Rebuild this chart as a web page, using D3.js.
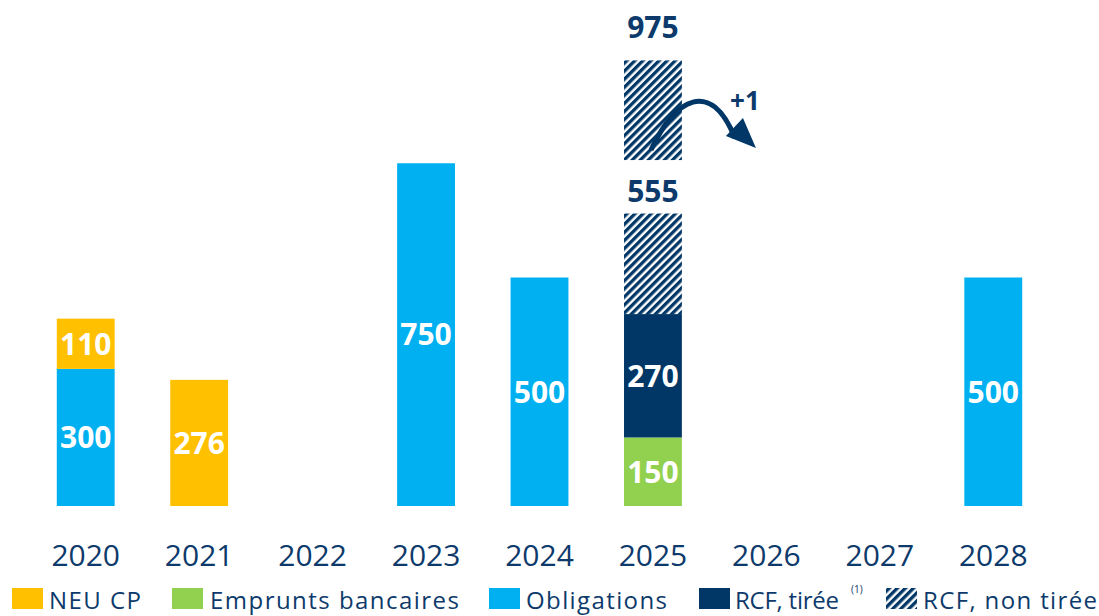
<!DOCTYPE html>
<html>
<script src='https://d3js.org/d3.v7.min.js'></script>
<style>
body {margin: 0; background: white;}
text {font-family: 'Open Sans', sans-serif;}
</style>
<body onload='init()'>
<script>
// chart values
var years = ['2020','2021','2022','2023','2024','2025','2026','2027','2028'];
var neuCP      = [110, 276, 0, 0, 0, 0, 0, 0, 0];
var emprunts   = [0, 0, 0, 0, 0, 150, 0, 0, 0];
var obligations= [300, 0, 0, 750, 500, 0, 0, 0, 500];
var rcfTiree   = [0, 0, 0, 0, 0, 270, 0, 0, 0];
// undrawn RCF blocks (not to scale in the original): [from, to, label]
var rcfNonTiree = [[420, 640, '555'], [757, 975, '975']];
var extension = '+1';

var legendNames = ['NEU CP', 'Emprunts bancaires', 'Obligations', 'RCF, tirée', 'RCF, non tirée'];

function init() {
  var navy = '#003767', textNavy = '#0d3a6b';
  var colors = {neu: '#FFC000', emp: '#92D050', obl: '#00B0F0', rcf: navy};

  var svg = d3.select('body').append('svg')
    .attr('width', 1099).attr('height', 616);

  var defs = svg.append('defs');
  var pat = defs.append('pattern')
    .attr('id', 'hatch')
    .attr('patternUnits', 'userSpaceOnUse')
    .attr('width', 5.7).attr('height', 5.7)
    .attr('patternTransform', 'rotate(45)');
  pat.append('rect').attr('width', 5.7).attr('height', 5.7).attr('fill', 'white');
  pat.append('rect').attr('width', 3.3).attr('height', 5.7).attr('fill', navy);

  var x = d3.scaleBand().domain(years).range([29, 1050])
    .paddingInner(0.49).paddingOuter(0.245);
  var y = d3.scaleLinear().domain([0, 1000]).range([506, 49]);

  // stacked segments: order bottom to top
  var series = [
    {key: 'obl', vals: obligations},
    {key: 'emp', vals: emprunts},
    {key: 'neu', vals: neuCP},
    {key: 'rcf', vals: rcfTiree}
  ];
  var segs = [];
  years.forEach(function(yr, i) {
    var base = 0;
    series.forEach(function(s) {
      var v = s.vals[i];
      if (v > 0) {
        segs.push({year: yr, key: s.key, y0: base, y1: base + v, v: v});
        base += v;
      }
    });
  });

  var g = svg.append('g');
  g.selectAll('rect.seg')
    .data(segs)
    .enter()
    .append('rect')
    .attr('class', 'seg')
    .attr('x', function(d) { return x(d.year); })
    .attr('width', x.bandwidth())
    .attr('y', function(d) { return y(d.y1); })
    .attr('height', function(d) { return y(d.y0) - y(d.y1); })
    .attr('fill', function(d) { return colors[d.key]; });

  g.selectAll('text.val')
    .data(segs)
    .enter()
    .append('text')
    .attr('class', 'val')
    .attr('x', function(d) { return x(d.year) + x.bandwidth() / 2; })
    .attr('y', function(d) { return (y(d.y0) + y(d.y1)) / 2; })
    .attr('dy', '0.36em')
    .style('text-anchor', 'middle')
    .style('font-weight', 'bold')
    .style('font-size', '30px')
    .style('fill', 'white')
    .text(function(d) { return d.v; });

  // undrawn RCF
  var x25 = x('2025');
  g.selectAll('rect.hatch')
    .data(rcfNonTiree)
    .enter()
    .append('rect')
    .attr('class', 'hatch')
    .attr('x', x25)
    .attr('width', x.bandwidth())
    .attr('y', function(d) { return y(d[1]); })
    .attr('height', function(d) { return y(d[0]) - y(d[1]); })
    .attr('fill', 'url(#hatch)');

  g.selectAll('text.tot')
    .data(rcfNonTiree)
    .enter()
    .append('text')
    .attr('class', 'tot')
    .attr('x', x25 + x.bandwidth() / 2)
    .attr('y', function(d, i) { return y(d[1]) - (i === 0 ? 12 : 22); })
    .style('text-anchor', 'middle')
    .style('font-weight', 'bold')
    .style('font-size', '30px')
    .style('fill', textNavy)
    .text(function(d) { return d[2]; });

  // extension arrow
  var cx = x25 + x.bandwidth() / 2;
  var ay = y(rcfNonTiree[1][0]);
  var arrow = svg.append('g');
  arrow.append('path')
    .attr('d', 'M' + (cx - 2) + ',' + (ay - 10) +
      ' C' + (cx + 22) + ',' + (ay - 62) + ' ' + (cx + 58) + ',' + (ay - 82) + ' ' + (cx + 82) + ',' + (ay - 22))
    .attr('fill', 'none')
    .attr('stroke', navy)
    .attr('stroke-width', 5);
  arrow.append('path')
    .attr('d', 'M' + (cx + 103) + ',' + (ay - 12) +
      ' L' + (cx + 73) + ',' + (ay - 24) + ' L' + (cx + 90) + ',' + (ay - 42) + ' Z')
    .attr('fill', navy);
  arrow.append('text')
    .attr('x', cx + 92).attr('y', ay - 50)
    .style('text-anchor', 'middle')
    .style('font-weight', 'bold')
    .style('font-size', '26px')
    .style('fill', textNavy)
    .text(extension);

  // year axis
  var ax = svg.append('g')
    .attr('transform', 'translate(0,520)')
    .call(d3.axisBottom(x).tickSize(0).tickPadding(0));
  ax.select('.domain').remove();
  ax.selectAll('text')
    .attr('y', 46)
    .attr('dy', 0)
    .style('font-family', "'Open Sans', sans-serif")
    .style('font-size', '30px')
    .style('fill', textNavy);

  // legend
  var legX = [12, 172, 489, 699, 886];
  var legTextX = [49, 210, 526, 735, 923];
  var legW = [92, 249, 141, 104, 174];
  var legFill = [colors.neu, colors.emp, colors.obl, colors.rcf, 'url(#hatch)'];
  var leg = svg.append('g');
  leg.selectAll('rect')
    .data(legendNames)
    .enter()
    .append('rect')
    .attr('x', function(d, i) { return legX[i]; })
    .attr('y', 588)
    .attr('width', 31).attr('height', 21)
    .attr('fill', function(d, i) { return legFill[i]; });
  leg.selectAll('text.leg')
    .data(legendNames)
    .enter()
    .append('text')
    .attr('class', 'leg')
    .attr('x', function(d, i) { return legTextX[i]; })
    .attr('y', 609)
    .attr('textLength', function(d, i) { return legW[i]; })
    .attr('lengthAdjust', 'spacing')
    .style('font-size', '24px')
    .style('fill', textNavy)
    .text(function(d) { return d; });
  leg.append('text')
    .attr('x', 851).attr('y', 593)
    .style('font-size', '10px')
    .style('fill', textNavy)
    .text('(1)');
}
</script>
</body>
</html>
